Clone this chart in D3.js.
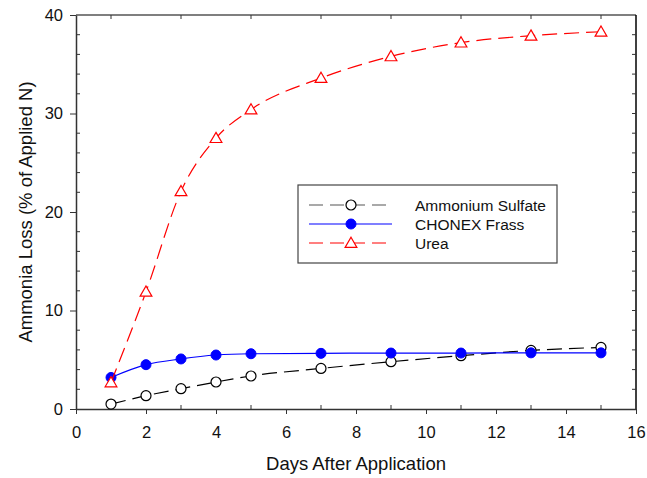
<!DOCTYPE html>
<html>
<head>
<meta charset="utf-8">
<script src="https://cdn.jsdelivr.net/npm/d3@7"></script>
<style>
  body { margin: 0; background: #fff; }
  text { font-family: "Liberation Sans", Arial, sans-serif; fill: #111; }
</style>
</head>
<body>
<div id="chart"></div>
<script>
const days = [1, 2, 3, 4, 5, 7, 9, 11, 13, 15];
const ammoniumSulfate = [0.5, 1.35, 2.06, 2.74, 3.35, 4.12, 4.8, 5.41, 5.95, 6.25];
const chonexFrass = [3.2, 4.5, 5.08, 5.48, 5.61, 5.65, 5.68, 5.68, 5.7, 5.7];
const urea = [2.7, 11.9, 22.1, 27.5, 30.4, 33.6, 35.8, 37.2, 37.9, 38.3];
const xTicks = [0, 2, 4, 6, 8, 10, 12, 14, 16];
const yTicks = [0, 10, 20, 30, 40];

const width = 647, height = 478;
const plotLeft = 76, plotRight = 636, plotTop = 15, plotBottom = 409;

const svg = d3.select('#chart').append('svg')
    .attr('width', width)
    .attr('height', height);

const x = d3.scaleLinear().domain([0, 16]).range([plotLeft, plotRight]);
const y = d3.scaleLinear().domain([0, 40]).range([plotBottom, plotTop]);

// frame
svg.append('line').attr('x1', plotLeft).attr('x2', plotRight).attr('y1', plotTop).attr('y2', plotTop)
    .attr('stroke', '#555').attr('stroke-width', 1.5);
svg.append('line').attr('x1', plotRight).attr('x2', plotRight).attr('y1', plotTop).attr('y2', plotBottom)
    .attr('stroke', '#000').attr('stroke-width', 1.5);

// bottom axis: major outward, minor inward
svg.append('g')
    .attr('transform', `translate(0, ${plotBottom})`)
    .call(d3.axisBottom(x).tickValues(xTicks).tickSize(5).tickPadding(12).tickSizeOuter(0))
    .call(g => g.select('.domain').attr('stroke', '#333').attr('stroke-width', 1.5))
    .call(g => g.selectAll('.tick line').attr('stroke', '#333'))
    .call(g => g.selectAll('.tick text').style('font-size', '16.5px').style('font-family', '"Liberation Sans", Arial, sans-serif'));

const oddDays = d3.range(1, 16, 2);
svg.append('g').selectAll('line').data(oddDays).join('line')
    .attr('x1', d => x(d)).attr('x2', d => x(d))
    .attr('y1', plotBottom).attr('y2', plotBottom - 4)
    .attr('stroke', '#333');
svg.append('g').selectAll('line').data(oddDays).join('line')
    .attr('x1', d => x(d)).attr('x2', d => x(d))
    .attr('y1', plotTop).attr('y2', plotTop + 4)
    .attr('stroke', '#333');

// left axis
svg.append('g')
    .attr('transform', `translate(${plotLeft}, 0)`)
    .call(d3.axisLeft(y).tickValues(yTicks).tickSize(6).tickPadding(7).tickSizeOuter(0))
    .call(g => g.select('.domain').attr('stroke', '#333').attr('stroke-width', 1.5))
    .call(g => g.selectAll('.tick line').attr('stroke', '#333'))
    .call(g => g.selectAll('.tick text').style('font-size', '16.5px').style('font-family', '"Liberation Sans", Arial, sans-serif'));

const minorY = d3.range(2, 40, 2).filter(d => d % 10 !== 0);
svg.append('g').selectAll('line').data(minorY).join('line')
    .attr('x1', plotLeft).attr('x2', plotLeft + 4)
    .attr('y1', d => y(d)).attr('y2', d => y(d))
    .attr('stroke', '#333');
svg.append('g').selectAll('line').data(d3.range(2, 40, 2)).join('line')
    .attr('x1', plotRight).attr('x2', plotRight - 4)
    .attr('y1', d => y(d)).attr('y2', d => y(d))
    .attr('stroke', '#333');

// axis titles
svg.append('text')
    .attr('x', (plotLeft + plotRight) / 2)
    .attr('y', 470)
    .attr('text-anchor', 'middle')
    .style('font-size', '18.5px')
    .text('Days After Application');

svg.append('text')
    .attr('transform', `translate(32, ${(plotTop + plotBottom) / 2}) rotate(-90)`)
    .attr('text-anchor', 'middle')
    .style('font-size', '18.5px')
    .text('Ammonia Loss (% of Applied N)');

// series
const series = [
    { name: 'Ammonium Sulfate', values: ammoniumSulfate, color: '#000', dash: '15,7', marker: 'open-circle' },
    { name: 'CHONEX Frass', values: chonexFrass, color: '#0000ff', dash: null, marker: 'filled-circle' },
    { name: 'Urea', values: urea, color: '#ff0000', dash: '15,7', marker: 'triangle' }
];

const line = d3.line()
    .x(d => x(d[0]))
    .y(d => y(d[1]))
    .curve(d3.curveMonotoneX);

const triangle = d3.symbol().type(d3.symbolTriangle).size(60);

function drawMarker(g, kind, color) {
    if (kind === 'open-circle') {
        g.append('circle').attr('r', 5).attr('fill', '#fff').attr('stroke', '#000').attr('stroke-width', 1.2);
    } else if (kind === 'filled-circle') {
        g.append('circle').attr('r', 5).attr('fill', color).attr('stroke', color);
    } else {
        g.append('path').attr('d', triangle).attr('transform', 'translate(0,1)')
            .attr('fill', '#fff').attr('stroke', color).attr('stroke-width', 1.2);
    }
}

series.forEach(s => {
    const pts = days.map((d, i) => [d, s.values[i]]);
    svg.append('path')
        .datum(pts)
        .attr('d', line)
        .attr('fill', 'none')
        .attr('stroke', s.color)
        .attr('stroke-width', 1.2)
        .attr('stroke-dasharray', s.dash);
    svg.append('g').selectAll('g').data(pts).join('g')
        .attr('transform', d => `translate(${x(d[0])}, ${y(d[1])})`)
        .each(function () { drawMarker(d3.select(this), s.marker, s.color); });
});

// legend
const legend = svg.append('g');
legend.append('rect')
    .attr('x', 298).attr('y', 185)
    .attr('width', 259).attr('height', 78)
    .attr('fill', '#fff').attr('stroke', '#444').attr('stroke-width', 1.2);

const rowY = [205, 224, 243];
series.forEach((s, i) => {
    const row = legend.append('g').attr('transform', `translate(0, ${rowY[i]})`);
    row.append('line')
        .attr('x1', 309).attr('x2', 392)
        .attr('stroke', s.color === '#000' ? '#555' : s.color)
        .attr('stroke-width', 1.2)
        .attr('stroke-dasharray', s.dash ? '14,7' : null);
    const m = row.append('g').attr('transform', 'translate(351, 0)');
    drawMarker(m, s.marker, s.color);
    row.append('text')
        .attr('x', 415).attr('y', 5.5)
        .style('font-size', '15.5px')
        .text(s.name);
});
</script>
</body>
</html>
